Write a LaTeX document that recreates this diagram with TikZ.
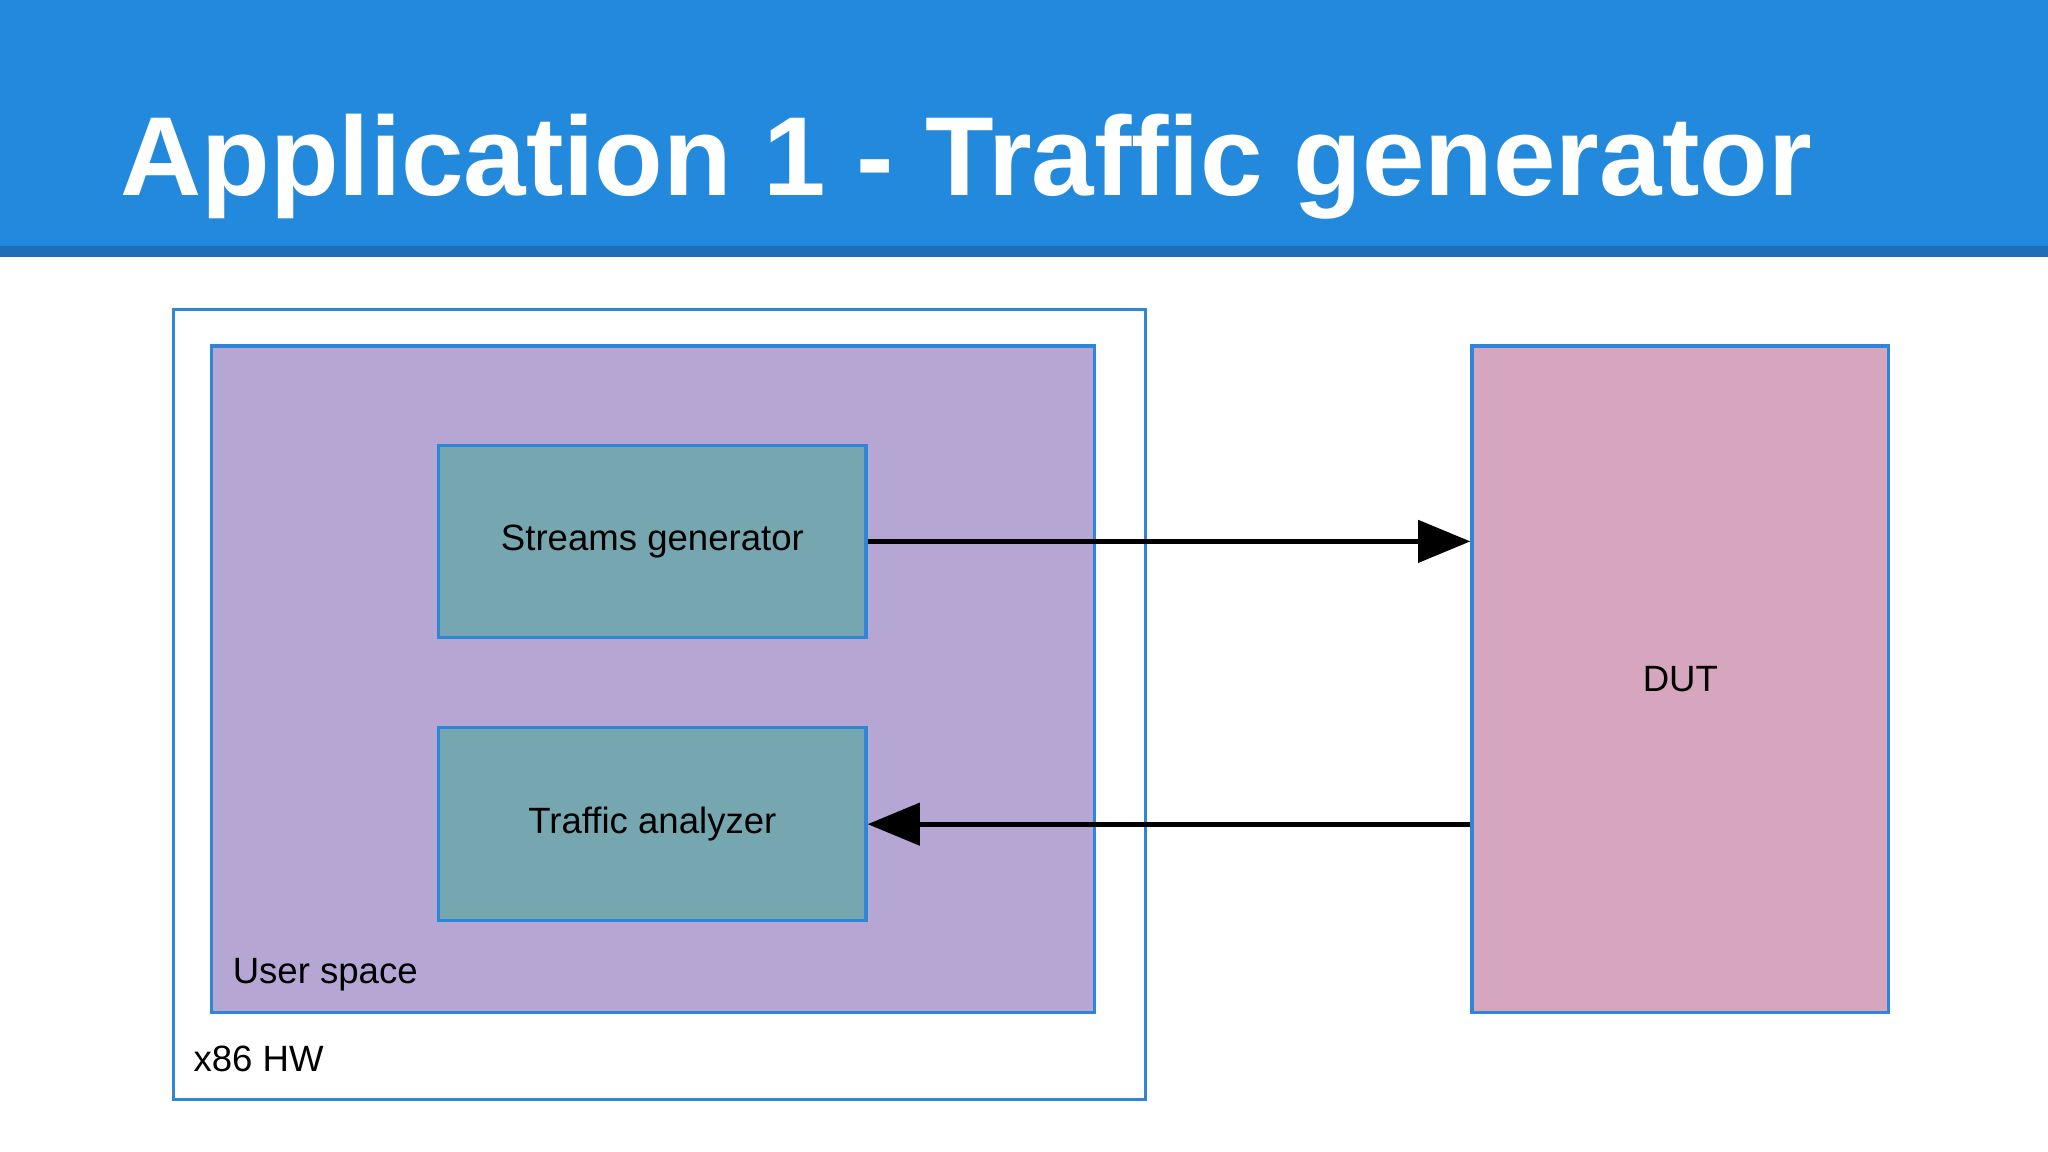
\documentclass[tikz,border=0pt]{standalone}
\usepackage{fontspec}
\setmainfont{Liberation Sans}
\usetikzlibrary{arrows.meta}
\definecolor{hdr}{HTML}{2389DC}
\definecolor{hdrd}{HTML}{1E6EB8}
\definecolor{bord}{HTML}{2F86D6}
\definecolor{usr}{HTML}{B5A6D4}
\definecolor{comp}{HTML}{76A7B0}
\definecolor{dut}{HTML}{D6A5BE}
\tikzset{
 box/.style={draw=bord,line width=2.5pt,inner sep=0pt},
 lbl/.style={font=\fontsize{28}{32}\selectfont,text=black},
 arr/.style={line width=4pt,-{Triangle[length=40pt,width=32pt]}}
}
\begin{document}
\begin{tikzpicture}[x=1pt,y=-1pt]
\useasboundingbox (0,0) rectangle (1568,882);
\fill[white] (0,0) rectangle (1568,882);
\fill[hdr] (0,0) rectangle (1568,190);
\fill[hdrd] (0,188) rectangle (1568,197);
\node[anchor=base west,text=white,font=\fontsize{86}{90}\selectfont\bfseries,inner sep=0pt] (title) at (92,150) {Application 1 - Traffic generator};
\draw[box,fill=white] (133,237) rectangle (877,842);
\draw[box,fill=usr] (162,265) rectangle (838,775);
\node[box,fill=comp,minimum width=327pt,minimum height=147pt,lbl] (sg) at (499.5,414.5) {Streams generator};
\node[box,fill=comp,minimum width=327pt,minimum height=148pt,lbl] (ta) at (499.5,631) {Traffic analyzer};
\node[box,fill=dut,minimum width=319pt,minimum height=510pt,lbl] (dut) at (1286.5,520) {DUT};
\node[lbl,anchor=base west,inner sep=0pt] (us) at (178,753) {User space};
\node[lbl,anchor=base west,inner sep=0pt] (hw) at (148,820) {x86 HW};
\draw[arr] (sg.east) -- (sg.east -| dut.west);
\draw[arr] (ta.east -| dut.west) -- (ta.east);
\end{tikzpicture}
\end{document}
